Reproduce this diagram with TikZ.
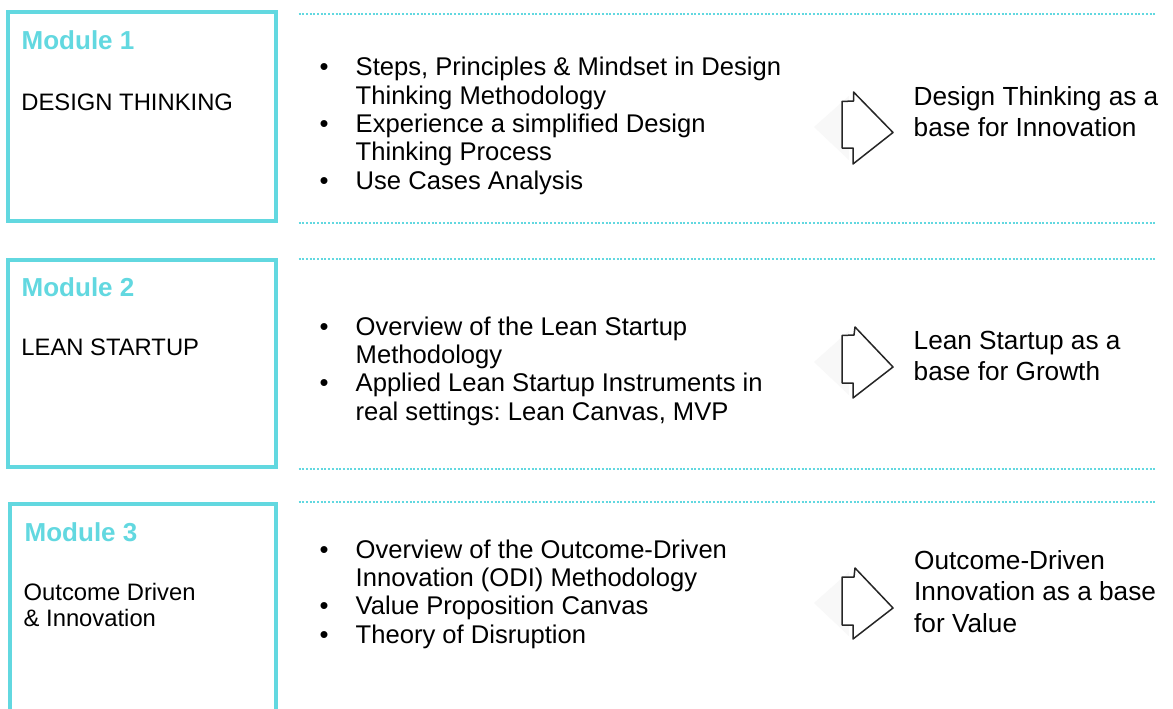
\documentclass[tikz,border=0pt]{standalone}
\usepackage{fontspec}
\setmainfont{Liberation Sans}
\frenchspacing
\definecolor{modteal}{HTML}{62D8E0}
\definecolor{arrowgray}{HTML}{262626}
\definecolor{shadowgray}{HTML}{F8F8F8}
\newcommand\bitem[1]{\hbox{\makebox[36pt][l]{\textbullet}#1}}
\newcommand\bcont[1]{\hbox{\hspace*{36pt}#1}}
\newcommand\tline[1]{\hbox{#1}}
\begin{document}
\begin{tikzpicture}[x=1pt,y=-1pt,
  modbox/.style={draw=modteal, line width=4pt},
  sepline/.style={draw=modteal, line width=2pt, dash pattern=on 2pt off 1.7pt},
  modtitle/.style={anchor=base west, inner sep=0pt, text=modteal, font=\fontsize{26}{30}\selectfont\bfseries},
  modlabel/.style={anchor=base west, inner sep=0pt, font=\fontsize{23.8}{26.2}\selectfont},
  bullets/.style={anchor=base west, inner sep=0pt, font=\fontsize{25.6}{28.4}\selectfont},
  outcome/.style={anchor=base west, inner sep=0pt, font=\fontsize{26.2}{31.8}\selectfont},
  arrowshape/.style={draw=arrowgray, line width=1.5pt, fill=white, line join=round},
  arrowshadow/.style={fill=shadowgray, draw=none}]
\clip (0,0) rectangle (1173,709);
\fill[white] (0,0) rectangle (1173,709);

% ---------- Module 1 ----------
\draw[modbox] (8,12) rectangle (276,221);
\node[modtitle] (t1) at (21.5,50) {Module 1};
\node[modlabel] (l1) at (21.2,110.7) {DESIGN THINKING};
\draw[sepline] (298.5,14) -- (1155,14);
\draw[sepline] (298.5,223) -- (1155,223);
\node[bullets] (b1) at (319.5,75.7) {\vtop{%
  \bitem{Steps, Principles \& Mindset in Design}
  \bcont{Thinking Methodology}
  \bitem{Experience a simplified Design}
  \bcont{Thinking Process}
  \bitem{Use Cases Analysis}}};
\begin{scope}[shift={(0,92)}]
  \fill[arrowshadow] (814,35) -- (849,4) -- (849,68) -- cycle;
  \draw[arrowshape] (853.5,0) -- (893,40.5) -- (853,72) -- (853,56) -- (842,56) -- (842,9.5) -- (853.5,9) -- cycle;
\end{scope}
\node[outcome] (o1) at (913.5,105) {\vtop{\tline{Design Thinking as a}\tline{base for Innovation}}};

% ---------- Module 2 ----------
\draw[modbox] (8,260) rectangle (276,467);
\node[modtitle] (t2) at (21.5,296.7) {Module 2};
\node[modlabel] (l2) at (21.2,355) {LEAN STARTUP};
\draw[sepline] (298.5,258.5) -- (1155,258.5);
\draw[sepline] (298.5,469) -- (1155,469);
\node[bullets] (b2) at (319.5,335) {\vtop{%
  \bitem{Overview of the Lean Startup}
  \bcont{Methodology}
  \bitem{Applied Lean Startup Instruments in}
  \bcont{real settings: Lean Canvas, MVP}}};
\begin{scope}[shift={(0,327)}]
  \fill[arrowshadow] (814,35) -- (849,4) -- (849,68) -- cycle;
  \draw[arrowshape] (855,0) -- (893,40) -- (853,71) -- (853,56) -- (842,56) -- (842,8.5) -- (854,8) -- cycle;
\end{scope}
\node[outcome] (o2) at (913.5,349) {\vtop{\tline{Lean Startup as a}\tline{base for Growth}}};

% ---------- Module 3 ----------
\draw[modbox] (10.3,504.3) rectangle (275.7,740);
\node[modtitle] (t3) at (24.5,541.7) {Module 3};
\node[modlabel] (l3) at (23.5,600) {\vtop{\tline{Outcome Driven}\tline{\& Innovation}}};
\draw[sepline] (298.5,502) -- (1155,502);
\node[bullets] (b3) at (319.5,558) {\vtop{%
  \bitem{Overview of the Outcome-Driven}
  \bcont{Innovation (ODI) Methodology}
  \bitem{Value Proposition Canvas}
  \bitem{Theory of Disruption}}};
\begin{scope}[shift={(0,568)}]
  \fill[arrowshadow] (814,35) -- (849,4) -- (849,68) -- cycle;
  \draw[arrowshape] (855,0) -- (893,40) -- (853,71) -- (853,57) -- (842,57) -- (842,9) -- (854,9) -- cycle;
\end{scope}
\node[outcome] (o3) at (914,569) {\vtop{\tline{Outcome-Driven}\tline{Innovation as a base}\tline{for Value}}};
\end{tikzpicture}
\end{document}
